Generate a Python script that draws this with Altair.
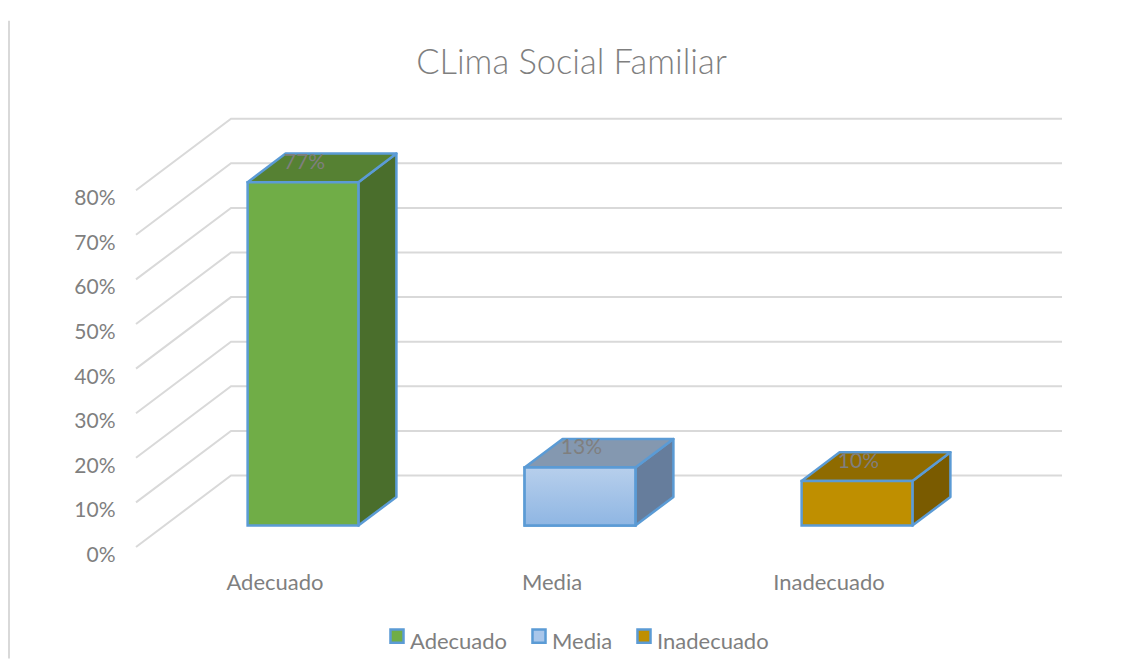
import altair as alt
import pandas as pd

categories = ["Adecuado", "Media", "Inadecuado"]
values = [77, 13, 10]
front_colors = ["#70ad47", "#a9c6ea", "#bf8f00"]
top_colors = ["#568133", "#8498b0", "#8f6b00"]
side_colors = ["#4a6e2c", "#667d9c", "#7a5b00"]
ticks = [0, 10, 20, 30, 40, 50, 60, 70, 80]

# oblique projection: one unit of depth moves right and up
DX = 0.343      # in category units
DY = 16.03      # in percent units
D0, D1 = 0.3, 0.7
W0, W1 = 0.3, 0.7
FONT = "Lato"
GREY = "#7f7f7f"
GRID = "#d9d9d9"
EDGE = "#5b9bd5"

front, side, top, labels = [], [], [], []
for i, (c, v) in enumerate(zip(categories, values)):
    xl, xr = i + W0 + D0 * DX, i + W1 + D0 * DX
    b0, b1 = D0 * DY, D1 * DY
    d = (D1 - D0) * DX
    front.append(dict(cat=c, x=xl, x2=xr, y=b0 + v, y2=b0))
    side += [
        dict(cat=c, fill=side_colors[i], x=xr, y=b0 + v, y2=b0),
        dict(cat=c, fill=side_colors[i], x=xr + d, y=b1 + v, y2=b1),
    ]
    top += [
        dict(cat=c, fill=top_colors[i], x=xl, y=b0 + v, y2=b0 + v),
        dict(cat=c, fill=top_colors[i], x=xl + d, y=b1 + v, y2=b0 + v),
        dict(cat=c, fill=top_colors[i], x=xr, y=b1 + v, y2=b0 + v),
        dict(cat=c, fill=top_colors[i], x=xr + d, y=b1 + v, y2=b1 + v),
    ]
    labels.append(dict(x=i + 0.505 + D0 * DX, y=v + 0.57 * DY, t=f"{v}%"))

grid_rows = []
for t in ticks:
    grid_rows += [
        dict(t=t, x=0, y=t),
        dict(t=t, x=DX, y=t + DY),
        dict(t=t, x=3 + DX, y=t + DY),
    ]

xs = alt.Scale(domain=[0, 927 / 277], nice=False, zero=False)
ys = alt.Scale(domain=[0, 429 / 4.46], nice=False, zero=False)

x_axis = alt.Axis(
    values=[0.5, 1.5, 2.5],
    labelExpr="['Adecuado','Media','Inadecuado'][floor(datum.value)]",
    title=None, grid=False, domain=False, ticks=False,
    labelFont=FONT, labelFontSize=22, labelColor=GREY, labelFontWeight="normal",
    labelPadding=25, labelOffset=0, labelBaseline="top", labelAngle=0,
)
y_axis = alt.Axis(
    values=ticks, format=".0f", labelExpr="datum.value + '%'",
    title=None, grid=False, domain=False, ticks=False,
    labelFont=FONT, labelFontSize=21, labelColor=GREY,
    labelPadding=21, labelOffset=8.5,
)

X = alt.X("x:Q", scale=xs, axis=x_axis)
Y = alt.Y("y:Q", scale=ys, axis=y_axis, stack=None)

frame = alt.Chart(pd.DataFrame([dict(x=-127 / 277, y=118, y2=-25)])).mark_rule(
    color=GRID, strokeWidth=2
).encode(x=X, y=Y, y2="y2:Q")

grid = alt.Chart(pd.DataFrame(grid_rows)).mark_line(color=GRID, strokeWidth=2).encode(
    x=X, y=Y, detail="t:N", order=alt.Order("x:Q")
)


def faces(rows):
    return alt.Chart(pd.DataFrame(rows)).mark_area(
        orient="vertical", opacity=1, stroke=EDGE, strokeWidth=2.5, strokeJoin="round"
    ).encode(
        x=X, y=Y, y2="y2:Q", detail="cat:N",
        fill=alt.Fill("fill:N", scale=None, legend=None),
    )


side_layer = faces(side)
top_layer = faces(top)

front_layer = alt.Chart(pd.DataFrame(front)).mark_bar(
    stroke=EDGE, strokeWidth=2.5
).encode(
    x=X, x2="x2:Q", y=Y, y2="y2:Q",
    color=alt.Color(
        "cat:N",
        scale=alt.Scale(domain=categories, range=front_colors),
        sort=categories,
        legend=alt.Legend(
            title=None, orient="none", legendX=250, legendY=513, columns=3,
            symbolType="M-1,-1.9H1V0.1H-1Z", symbolSize=170, symbolStrokeColor=EDGE,
            symbolStrokeWidth=2.5, symbolOpacity=1,
            labelFont=FONT, labelFontSize=22, labelColor=GREY, labelOffset=2,
            columnPadding=19, padding=0, labelLimit=200,
        ),
    ),
)

media_gradient = alt.Chart(pd.DataFrame([front[1]])).mark_bar(
    stroke=EDGE, strokeWidth=2.5,
    color=alt.Gradient(
        gradient="linear", x1=0, x2=0, y1=0, y2=1,
        stops=[alt.GradientStop(offset=0, color="#b7cfec"),
               alt.GradientStop(offset=1, color="#8fb6e3")],
    ),
).encode(x=X, x2="x2:Q", y=Y, y2="y2:Q")

text = alt.Chart(pd.DataFrame(labels)).mark_text(
    font=FONT, fontSize=21, color=GREY
).encode(x=X, y=Y, text="t:N")

chart = alt.layer(
    frame, grid, side_layer, top_layer, front_layer, media_gradient, text
).properties(
    width=927,
    height=429,
    padding={"left": 128, "top": 110, "right": 61, "bottom": 112},
    autosize=alt.AutoSizeParams(type="none"),
    background="white",
    title=alt.TitleParams(
        "CLima Social Familiar", font=FONT, fontSize=34.5, fontWeight=300,
        color=GREY, anchor="middle", dx=-28, dy=104, offset=42,
    ),
).configure_view(stroke=None)

chart.save("out.html", embed_options={"renderer": "svg", "actions": False})
